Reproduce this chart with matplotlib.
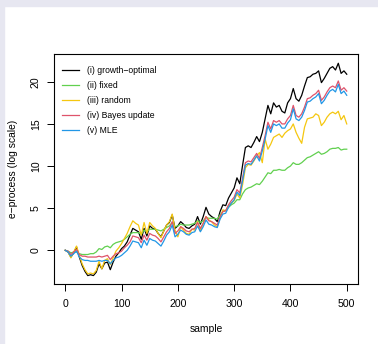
import numpy as np
import matplotlib
matplotlib.use("Agg")
import matplotlib.pyplot as plt
from matplotlib.patches import Rectangle

plt.rcParams['font.family'] = ['Liberation Sans', 'DejaVu Sans']

# sample index of every value below (one value each 5 samples)
sample = np.arange(0, 501, 5)

growth_optimal = [
    0.0, -0.2, -0.8, -0.3, 0.4, -0.8, -1.8, -2.5, -3.0, -2.9,
    -3.0, -2.6, -1.6, -2.2, -1.5, -1.4, -2.3, -1.4, -0.7, -0.3,
    0.2, 0.5, 1.0, 1.8, 2.6, 2.4, 2.2, 1.3, 2.6, 1.7,
    2.9, 2.6, 2.5, 2.0, 1.6, 2.3, 3.0, 3.3, 4.2, 2.6,
    2.9, 3.4, 3.1, 2.7, 2.6, 2.9, 3.1, 4.0, 3.1, 4.0,
    5.1, 4.3, 4.0, 3.8, 3.4, 4.6, 5.4, 5.3, 6.2, 6.8,
    7.4, 8.6, 7.9, 10.1, 12.2, 12.4, 12.2, 12.8, 13.5, 12.9,
    14.0, 15.6, 17.2, 16.2, 17.5, 17.0, 17.2, 16.5, 16.3, 17.5,
    18.0, 19.2, 18.0, 17.7, 18.4, 19.5, 20.5, 20.6, 20.9, 21.0,
    21.3, 19.9, 20.4, 21.0, 21.6, 21.8, 21.4, 22.2, 21.0, 21.3,
    20.9,
]

fixed = [
    0.0, -0.1, -0.3, -0.2, -0.2, -0.4, -0.5, -0.5, -0.5, -0.4,
    -0.4, -0.2, 0.2, 0.1, 0.4, 0.5, 0.3, 0.7, 0.9, 1.0,
    1.1, 1.3, 1.6, 1.9, 2.1, 2.1, 2.1, 1.9, 2.4, 2.2,
    2.5, 2.5, 2.5, 2.4, 2.3, 2.5, 2.7, 2.9, 3.3, 2.8,
    2.9, 3.1, 3.0, 3.0, 3.0, 3.1, 3.2, 3.5, 3.3, 3.5,
    3.9, 3.8, 3.8, 3.8, 3.7, 4.2, 4.6, 4.7, 5.1, 5.4,
    5.6, 6.0, 6.0, 6.7, 7.2, 7.4, 7.5, 7.7, 7.9, 7.8,
    8.2, 8.7, 9.2, 9.1, 9.5, 9.5, 9.6, 9.5, 9.5, 9.8,
    10.0, 10.4, 10.2, 10.2, 10.4, 10.7, 11.0, 11.1, 11.3, 11.5,
    11.7, 11.4, 11.5, 11.7, 12.0, 12.1, 12.1, 12.2, 11.9, 12.0,
    12.0,
]

random_bet = [
    0.0, -0.2, -0.9, -0.2, 0.5, -0.6, -1.6, -2.3, -2.8, -2.7,
    -2.8, -2.4, -1.3, -2.2, -1.2, -1.0, -1.7, -0.9, -0.1, 0.3,
    0.8, 1.4, 2.0, 2.8, 3.5, 3.2, 3.0, 1.8, 3.3, 2.0,
    3.3, 2.9, 2.6, 2.0, 1.5, 2.3, 3.0, 3.4, 4.3, 2.4,
    1.6, 2.8, 2.4, 2.0, 1.9, 2.5, 2.4, 3.4, 2.3, 3.2,
    4.0, 3.6, 3.4, 3.0, 2.8, 3.8, 4.8, 4.7, 5.3, 5.6,
    5.9, 6.7, 6.2, 7.8, 9.8, 10.2, 10.1, 10.6, 11.2, 11.6,
    10.4, 13.2, 12.0, 12.6, 13.4, 13.6, 13.8, 13.4, 13.9, 14.2,
    14.4, 15.0, 14.0, 13.3, 12.7, 14.6, 15.6, 15.7, 15.8, 16.2,
    16.0, 14.8, 15.2, 15.8, 16.2, 16.4, 16.2, 16.5, 15.5, 16.0,
    15.0,
]

bayes_update = [
    0.0, -0.1, -0.5, -0.2, 0.1, -0.5, -0.7, -0.7, -0.8, -0.8,
    -0.8, -0.8, -0.7, -0.8, -0.7, -0.6, -1.1, -0.7, -0.4, -0.3,
    -0.1, 0.3, 0.6, 1.0, 1.7, 1.6, 1.5, 0.9, 1.8, 1.2,
    2.0, 1.8, 1.7, 1.4, 1.0, 1.6, 2.2, 2.6, 3.4, 2.0,
    2.3, 2.8, 2.6, 2.3, 2.2, 2.5, 2.6, 3.3, 2.6, 3.2,
    4.0, 3.5, 3.4, 3.2, 3.0, 4.0, 4.6, 4.7, 5.4, 5.9,
    6.3, 7.2, 6.8, 8.6, 10.4, 10.6, 10.5, 11.0, 11.5, 10.9,
    12.2, 13.6, 15.2, 14.4, 15.4, 15.2, 15.4, 15.0, 15.0, 15.6,
    16.0, 17.2, 16.0, 15.8, 16.2, 17.0, 18.0, 18.1, 18.4, 18.6,
    19.0, 17.8, 18.2, 18.8, 19.3, 19.5, 19.3, 20.1, 19.0, 19.3,
    18.9,
]

mle = [
    0.0, -0.2, -0.7, -0.4, -0.1, -0.8, -1.1, -1.2, -1.2, -1.3,
    -1.3, -1.3, -1.2, -1.3, -1.2, -1.2, -1.6, -1.2, -0.9, -0.8,
    -0.6, -0.3, 0.0, 0.5, 1.1, 1.0, 0.9, 0.3, 1.2, 0.6,
    1.4, 1.2, 1.1, 0.8, 0.5, 1.1, 1.8, 2.2, 3.0, 1.6,
    1.9, 2.4, 2.2, 1.9, 1.8, 2.1, 2.2, 2.9, 2.2, 2.8,
    3.6, 3.1, 3.0, 2.8, 2.7, 3.7, 4.3, 4.4, 5.1, 5.6,
    6.0, 6.9, 6.5, 8.3, 10.1, 10.3, 10.2, 10.7, 11.2, 10.6,
    11.8, 13.2, 14.8, 14.0, 15.0, 14.8, 15.0, 14.5, 14.5, 15.1,
    15.5, 16.8, 15.6, 15.4, 15.8, 16.6, 17.6, 17.7, 18.0, 18.2,
    18.6, 17.4, 17.8, 18.4, 18.9, 19.1, 18.8, 19.7, 18.6, 18.9,
    18.4,
]

labels = ["(i) growth\u2212optimal", "(ii) fixed", "(iii) random",
          "(iv) Bayes update", "(v) MLE"]
colors = ["black", "#61D04F", "#F5C710", "#DF536B", "#2297E6"]
series = [growth_optimal, fixed, random_bet, bayes_update, mle]

fig = plt.figure(figsize=(3.78, 3.44), dpi=100)
fig.patches.append(Rectangle((0, 0), 4 / 378, 1, transform=fig.transFigure,
                             color="#e7e7f1", zorder=-1))
fig.patches.append(Rectangle((0, 1 - 6 / 344), 1, 6 / 344, transform=fig.transFigure,
                             color="#e7e7f1", zorder=-1))

ax = fig.add_axes([54 / 378, 60 / 344, 304 / 378, 230 / 344])
for y, c, lab in zip(series, colors, labels):
    ax.plot(sample, y, color=c, lw=0.9, label=lab)

ax.set_xlim(-20, 520)
ax.set_ylim(-4.0, 23.3)
ax.set_xticks([0, 100, 200, 300, 400, 500])
ax.set_yticks([0, 5, 10, 15, 20])
ax.tick_params(direction="out", length=5, width=0.7, labelsize=7.6, pad=5.5)
ax.tick_params(axis="y", pad=4.5)
for lbl in ax.get_yticklabels():
    lbl.set_rotation(90)
    lbl.set_va("center")
for s in ax.spines.values():
    s.set_linewidth(0.8)
ax.set_xlabel("sample", fontsize=7.4, labelpad=11)
ax.set_ylabel("e\u2212process (log scale)", fontsize=7.4, labelpad=9)

ax.legend(loc="upper left", bbox_to_anchor=(0.015, 0.962), frameon=False,
          fontsize=6.2, handlelength=2.0, handletextpad=0.95, labelspacing=0.7,
          borderaxespad=0)

fig.savefig("out.png", dpi=100)
